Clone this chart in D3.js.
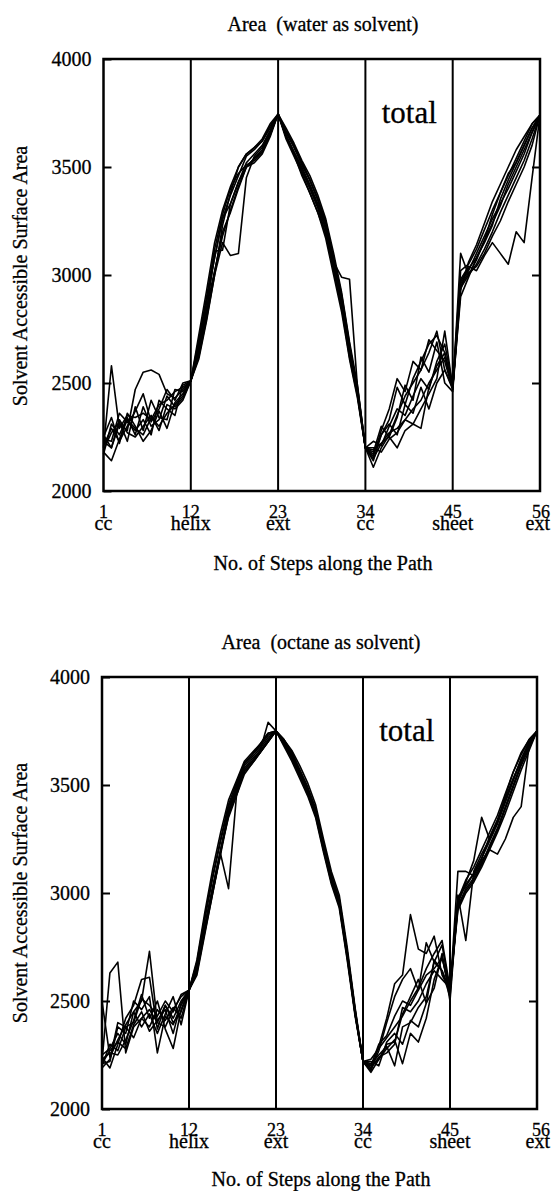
<!DOCTYPE html>
<html>
<head>
<meta charset="utf-8">
<script src="https://cdn.jsdelivr.net/npm/d3@7/dist/d3.min.js"></script>
<style>
  body { margin: 0; background: #fff; }
  svg text { font-family: "Liberation Serif", "DejaVu Serif", serif; fill: #000; stroke: #000; stroke-width: 0.3; }
</style>
</head>
<body>
<div id="chart"></div>
<script>
/* global d3 */

// data //

let tickSteps = [1, 12, 23, 34, 45, 56];
let tickNames = ["cc", "helix", "ext", "cc", "sheet", "ext"];
let yTicks = [2000, 2500, 3000, 3500, 4000];

// water as solvent, 9 paths, steps 1..56
let water1 = [2200,2580,2290,2350,2340,2360,2330,2400,2420,2460,2480,2510,
  2610,2790,3000,3230,3380,3500,3560,3590,3620,3690,3745,
  3680,3610,3530,3460,3370,3260,3100,2920,2690,2490,2200,
  2170,2260,2330,2480,2400,2520,2600,2680,2720,2640,2480,
  2960,3020,3100,3180,3260,3330,3400,3480,3560,3660,3740];
let water2 = [2230,2200,2310,2280,2470,2550,2560,2540,2450,2430,2470,2510,
  2700,2900,3120,3280,3400,3470,3510,3530,3570,3650,3745,
  3640,3570,3490,3410,3320,3210,3040,2870,2640,2450,2200,
  2150,2220,2270,2290,2330,2380,2420,2500,2560,2620,2480,
  2940,3000,3050,3120,3200,3290,3370,3450,3530,3630,3740];
let water3 = [2180,2140,2240,2330,2290,2260,2340,2300,2360,2400,2440,2510,
  2640,2830,3110,3115,3330,3430,3520,3560,3600,3670,3745,
  3650,3570,3500,3420,3330,3220,3050,2880,2650,2460,2200,
  2110,2200,2260,2350,2440,2500,2560,2640,2740,2560,2470,
  3100,3000,3070,3160,3240,3320,3420,3500,3580,3660,3740];
let water4 = [2250,2340,2220,2360,2300,2230,2280,2370,2290,2410,2450,2510,
  2620,2800,3000,3150,3090,3100,3450,3550,3590,3660,3745,
  3640,3560,3480,3400,3310,3190,3030,2860,2640,2450,2200,
  2190,2220,2250,2200,2280,2310,2290,2480,2580,2640,2480,
  2980,3040,3020,3090,3150,3100,3050,3200,3150,3450,3740];
let water5 = [2210,2290,2230,2300,2370,2450,2320,2380,2470,2420,2500,2510,
  2680,2880,3080,3260,3370,3460,3550,3580,3620,3680,3745,
  3660,3600,3520,3440,3350,3220,3060,2990,2980,2480,2200,
  2200,2180,2240,2270,2330,2310,2380,2450,2520,2740,2480,
  2900,2990,3080,3160,3280,3380,3460,3540,3620,3700,3740];
let water6 = [2260,2200,2330,2270,2250,2300,2350,2280,2400,2380,2420,2510,
  2660,2880,3080,3260,3330,3430,3500,3520,3560,3640,3745,
  3640,3560,3460,3380,3290,3190,3020,2850,2620,2440,2200,
  2160,2280,2380,2520,2460,2600,2560,2700,2650,2600,2470,
  2970,3030,3080,3150,3230,3350,3440,3520,3600,3680,3740];
let water7 = [2190,2270,2320,2230,2390,2280,2420,2340,2330,2470,2460,2510,
  2660,2850,3020,3180,3300,3410,3500,3540,3580,3660,3745,
  3630,3550,3470,3380,3290,3170,3000,2830,2610,2430,2200,
  2230,2210,2300,2380,2350,2440,2520,2470,2600,2680,2490,
  3020,3050,3120,3210,3300,3380,3470,3520,3600,3680,3740];
let water8 = [2240,2230,2360,2320,2280,2330,2260,2420,2380,2350,2490,2510,
  2630,2820,3010,3200,3290,3400,3500,3540,3570,3650,3745,
  3660,3590,3510,3440,3350,3250,3070,2900,2670,2480,2200,
  2140,2260,2310,2260,2400,2360,2480,2380,2500,2560,2480,
  2950,3010,3040,3100,3180,3250,3340,3420,3500,3600,3740];
let water9 = [2170,2310,2260,2340,2260,2390,2300,2330,2440,2390,2430,2510,
  2720,2930,3150,3300,3410,3500,3560,3590,3630,3700,3745,
  3670,3600,3520,3440,3350,3240,3080,2910,2680,2460,2200,
  2180,2300,2250,2340,2490,2420,2620,2550,2690,2500,2460,
  2930,3060,3140,3240,3340,3420,3500,3580,3640,3700,3740];

// octane as solvent, 9 paths, steps 1..56
let octane1 = [2220,2630,2680,2260,2380,2420,2460,2400,2480,2420,2500,2550,
  2620,2810,3000,3190,3380,3500,3600,3640,3680,3730,3750,
  3710,3660,3590,3510,3410,3250,3100,2990,2750,2470,2220,
  2180,2290,2420,2580,2620,2900,2740,2720,2800,2620,2550,
  2960,3040,3090,3160,3240,3320,3420,3520,3620,3690,3750];
let octane2 = [2500,2240,2320,2390,2450,2500,2730,2400,2380,2460,2520,2550,
  2690,2910,3110,3280,3430,3520,3610,3650,3690,3740,3750,
  3710,3650,3570,3490,3390,3230,3080,2970,2730,2460,2220,
  2230,2280,2330,2380,2430,2500,2560,2650,2720,2780,2560,
  2940,3020,3070,3140,3210,3290,3390,3490,3590,3670,3750];
let octane3 = [2240,2190,2300,2420,2480,2600,2610,2370,2480,2400,2450,2550,
  2630,2820,3000,3180,3020,3450,3570,3610,3650,3700,3750,
  3690,3630,3550,3470,3370,3210,3060,2950,2710,2440,2220,
  2170,2230,2280,2320,2210,2350,2310,2420,2600,2700,2550,
  2990,2780,3100,3180,3250,3330,3430,3530,3620,3700,3750];
let octane4 = [2210,2220,2380,2350,2500,2460,2520,2260,2430,2390,2480,2550,
  2670,2880,3070,3240,3400,3490,3590,3630,3670,3720,3750,
  3700,3640,3560,3480,3380,3220,3070,2960,2720,2450,2220,
  2210,2250,2290,2200,2380,2400,2470,2520,2680,2760,2540,
  3100,3100,3080,3150,3200,3180,3250,3350,3400,3680,3750];
let octane5 = [2230,2260,2250,2320,2410,2530,2420,2500,2370,2280,2460,2550,
  2650,2840,3020,3190,3370,3470,3570,3610,3660,3790,3750,
  3700,3640,3560,3470,3380,3230,3080,2960,2720,2450,2220,
  2200,2300,2340,2430,2500,2480,2550,2620,2650,2700,2550,
  2950,3050,3150,3350,3250,3330,3450,3560,3640,3710,3750];
let octane6 = [2200,2300,2270,2380,2330,2420,2380,2460,2410,2470,2420,2550,
  2650,2840,3020,3200,3350,3450,3550,3600,3650,3700,3750,
  3690,3630,3550,3470,3370,3210,3060,2950,2710,2440,2220,
  2190,2240,2260,2300,2470,2450,2500,2580,2640,2600,2560,
  2930,3010,3060,3130,3220,3300,3400,3500,3600,3680,3750];
let octane7 = [2250,2280,2350,2300,2450,2380,2440,2350,2440,2520,2390,2550,
  2640,2830,3010,3180,3360,3460,3560,3600,3650,3700,3750,
  3680,3610,3530,3450,3350,3190,3040,2930,2690,2430,2220,
  2220,2200,2310,2350,2300,2410,2380,2490,2560,2720,2500,
  2970,3060,3120,3200,3280,3360,3460,3560,3650,3710,3750];
let octane8 = [2190,2230,2400,2380,2400,2510,2480,2430,2500,2450,2530,2550,
  2680,2890,3080,3250,3410,3510,3600,3640,3690,3740,3750,
  3710,3650,3570,3490,3390,3230,3080,2970,2730,2460,2220,
  2180,2270,2400,2520,2600,2650,2550,2770,2680,2640,2550,
  2920,3000,3050,3120,3200,3280,3370,3470,3570,3660,3750];
let octane9 = [2210,2270,2310,2280,2390,2450,2360,2410,2460,2350,2490,2550,
  2650,2850,3030,3200,3380,3480,3580,3620,3660,3710,3750,
  3690,3620,3540,3460,3360,3200,3050,2940,2700,2440,2220,
  2200,2230,2300,2310,2440,2520,2600,2490,2690,2640,2520,
  2980,3030,3090,3160,3260,3340,3440,3530,3610,3690,3750];

let waterSeries = [water1, water2, water3, water4, water5, water6, water7, water8, water9];
let octaneSeries = [octane1, octane2, octane3, octane4, octane5, octane6, octane7, octane8, octane9];

// chart setup //

let SVGwidth = 551,
    SVGheight = 1191;

let svg = d3.select("#chart").append("svg")
    .attr("width", SVGwidth)
    .attr("height", SVGheight);

let panels = [
    {title: "Area  (water as solvent)", series: waterSeries,
     left: 103.5, right: 540, top: 59, bottom: 491, titleX: 323, titleY: 31, labelY: 570, yLabelY: 276},
    {title: "Area  (octane as solvent)", series: octaneSeries,
     left: 102, right: 537, top: 677, bottom: 1109, titleX: 321, titleY: 649, labelY: 1186, yLabelY: 893}
];

function drawPanel(p) {
    let xScale = d3.scaleLinear().domain([1, 56]).range([p.left, p.right]);
    let yScale = d3.scaleLinear().domain([2000, 4000]).range([p.bottom, p.top]);
    let g = svg.append("g");

    // curves
    let line = d3.line()
        .x(function(d, i) { return xScale(i + 1); })
        .y(function(d) { return yScale(d); });

    g.selectAll(".path")
        .data(p.series)
        .enter().append("path")
        .attr("class", "path")
        .attr("d", line)
        .style("fill", "none")
        .style("stroke", "#000")
        .style("stroke-width", 1.6)
        .style("stroke-linejoin", "round");

    // separators between secondary-structure states
    g.selectAll(".sep")
        .data(tickSteps.slice(1, 5))
        .enter().append("line")
        .attr("class", "sep")
        .attr("x1", function(d) { return xScale(d); })
        .attr("x2", function(d) { return xScale(d); })
        .attr("y1", p.top)
        .attr("y2", p.bottom)
        .style("stroke", "#000")
        .style("stroke-width", 2);

    // frame
    g.append("rect")
        .attr("x", p.left)
        .attr("y", p.top)
        .attr("width", p.right - p.left)
        .attr("height", p.bottom - p.top)
        .style("fill", "none")
        .style("stroke", "#000")
        .style("stroke-width", 2.5);

    // y axes, ticks pointing inward
    let yAxisL = d3.axisLeft(yScale).tickValues(yTicks).tickFormat(d3.format("d"))
        .tickSizeInner(-8).tickSizeOuter(0).tickPadding(12);
    let yAxisR = d3.axisRight(yScale).tickValues(yTicks.slice(1, 4)).tickFormat("")
        .tickSizeInner(-8).tickSizeOuter(0);

    let gl = g.append("g")
        .attr("transform", "translate(" + p.left + ",0)")
        .call(yAxisL);
    let gr = g.append("g")
        .attr("transform", "translate(" + p.right + ",0)")
        .call(yAxisR);
    [gl, gr].forEach(function(a) {
        a.select(".domain").remove();
        a.selectAll("line").style("stroke", "#000").style("stroke-width", 2);
    });
    gl.selectAll("text")
        .style("font-family", "Liberation Serif")
        .style("font-size", "20px");

    // x tick labels: step number above the state name
    function labelX(d) { return d === 56 ? SVGwidth - 1 : xScale(d); }
    function labelAnchor(d) { return d === 56 ? "end" : "middle"; }

    g.selectAll(".xnum")
        .data(tickSteps)
        .enter().append("text")
        .attr("class", "xnum")
        .attr("x", labelX)
        .attr("y", p.bottom + 27)
        .style("text-anchor", labelAnchor)
        .style("font-size", "18px")
        .text(function(d) { return d; });

    g.selectAll(".xname")
        .data(tickNames)
        .enter().append("text")
        .attr("class", "xname")
        .attr("x", function(d, i) { return labelX(tickSteps[i]); })
        .attr("y", p.bottom + 39)
        .style("text-anchor", function(d, i) { return labelAnchor(tickSteps[i]); })
        .style("font-size", "20px")
        .text(function(d) { return d; });

    g.append("text")
        .attr("x", p.titleX)
        .attr("y", p.titleY)
        .style("text-anchor", "middle")
        .style("font-size", "20px")
        .style("white-space", "pre")
        .text(p.title);

    g.append("text")
        .attr("x", p.titleX)
        .attr("y", p.labelY)
        .style("text-anchor", "middle")
        .style("font-size", "20px")
        .text("No. of Steps along the Path");

    g.append("text")
        .attr("transform", "translate(27," + p.yLabelY + ") rotate(-90)")
        .style("text-anchor", "middle")
        .style("font-size", "20px")
        .text("Solvent Accessible Surface Area");

    g.append("text")
        .attr("x", xScale(36.05))
        .attr("y", yScale(3703))
        .style("font-size", "31px")
        .text("total");
}

panels.forEach(drawPanel);
</script>
</body>
</html>
